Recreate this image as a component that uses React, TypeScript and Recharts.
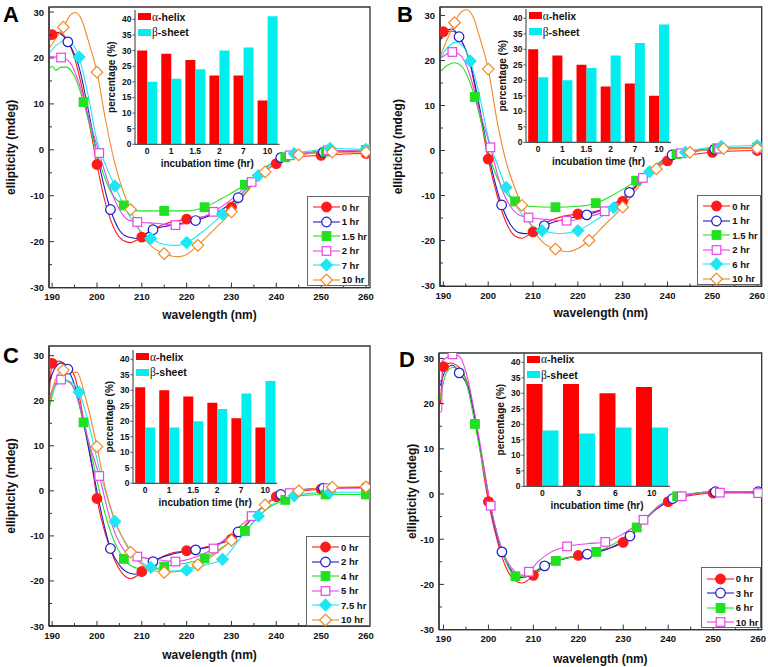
import React from "react"
import { LineChart, Line, XAxis, YAxis, ReferenceArea, BarChart, Bar } from "recharts"

type Pt = number[] // [wavelength, ellipticity, marker?]

const FONT = '"Liberation Sans", Arial, Helvetica, sans-serif'
const AXIS = "#333"

// tick labels
const X_TICKS = [190, 195, 200, 205, 210, 215, 220, 225, 230, 235, 240, 245, 250, 255, 260]
const Y_TICKS = [-30, -25, -20, -15, -10, -5, 0, 5, 10, 15, 20, 25, 30]
const INSET_Y_TICKS = [0, 5, 10, 15, 20, 25, 30, 35, 40]

// ---- panel A ----
const A_labels = ["0 hr", "1 hr", "1.5 hr", "2 hr", "7 hr", "10 hr"]
const A_0: Pt[] = [[189.3, 24], [190, 25.1, 1], [191.5, 25.6], [193, 24.5], [195, 20], [197, 12], [199, 2], [200, -3.2, 1], [202, -12], [204, -17.5], [206, -19.8], [207.5, -20.2], [209, -19.6], [210, -19, 1], [212, -17.5], [215, -16.2], [220, -15.1, 1], [225, -14.3], [230, -12.5, 1], [233, -9.5], [236, -6], [240, -3, 1], [245, -1.5], [250, -1.2, 1], [255, -0.9], [260, -0.8, 1]]
const A_1: Pt[] = [[189.3, 24], [191, 25.5], [193.5, 23.5, 1], [196, 18], [198, 9], [200, -1], [203, -13, 1], [205, -17.5], [207, -19], [209, -19.3], [211, -18.2], [212.5, -17.4, 1], [216, -16.5], [222, -15.4, 1], [227, -13.5], [231.5, -10.4, 1], [236, -5.5], [241, -1.7, 1], [245, -1], [250.5, -0.5, 1], [260, -0.3, 1]]
const A_15: Pt[] = [[189.3, 17.5], [190, 18.2], [190.8, 17.3], [192, 18], [193, 18], [195, 16], [197, 10.4, 1], [199, 3], [201, -4], [203, -9], [206, -12.1, 1], [209, -13.3], [215, -13.3, 1], [220, -13.3], [224, -12.5, 1], [228, -10.5], [233, -7.6, 1], [238, -3.5], [242, -1.6, 1], [246, -0.8], [251, -0.4, 1], [260, 0, 1]]
const A_2: Pt[] = [[189.3, 20.3], [192, 20.1, 1], [194, 19], [196, 14.5], [198, 7.5], [200.5, -0.7, 1], [203, -8.5], [205, -13], [207, -15.3], [209, -15.7, 1], [213, -16], [217.5, -16.4, 1], [222, -15.3], [226, -13.5, 1], [230, -10.8], [234.5, -7, 1], [239, -3.5], [243, -1.2, 1], [247, -0.6], [251.5, -0.1, 1], [260, -0.3, 1]]
const A_7: Pt[] = [[189.3, 21], [191, 22.8], [193, 23.8], [194.5, 23], [196, 20.2, 1], [198, 12], [200, 2], [202, -3.5], [204, -7.9, 1], [207, -14], [210, -18], [212, -19.3, 1], [215, -20.6], [218, -20.8], [220, -20.2, 1], [224, -17.5], [228, -14, 1], [232, -10], [236, -5.6, 1], [240, -2.2], [244, -0.8, 1], [248, -0.2], [252, 0.3, 1], [260, 0.1, 1]]
const A_10: Pt[] = [[189.3, 22], [191, 24.5], [192.5, 26.7, 1], [194, 29.3], [195.2, 29.9], [196.5, 28.5], [198, 24], [200, 16.9, 1], [202, 6], [204, -3], [206, -9.5], [207.5, -13, 1], [210, -18.5], [212.5, -21.3], [215, -22.6, 1], [218, -23.3], [220, -22.8], [222.5, -20.8, 1], [226, -17.5], [230, -13.5, 1], [234, -8.5], [237.5, -4.8, 1], [241, -2.2], [245, -1.1, 1], [252.5, -0.5, 1], [260, -0.5, 1]]
const A_times = ["0", "1", "1.5", "2", "7", "10"]
const A_helix = [30, 29, 27, 22, 22, 14]
const A_sheet = [20, 21, 24, 30, 31, 41]

// ---- panel B ----
const B_labels = ["0 hr", "1 hr", "1.5 hr", "2 hr", "6 hr", "10 hr"]
const B_0: Pt[] = [[189.3, 25], [190, 26.4, 1], [192, 26.5], [194, 24.5], [196, 19], [198, 9], [200, -1.9, 1], [202, -10], [204, -16], [206, -19], [207.5, -19.5], [209, -18.8], [210, -18.1, 1], [213, -16], [216, -14.8], [220, -14.1, 1], [225, -13.2], [230, -11.3, 1], [233, -8], [236, -4.8], [240, -2.3, 1], [245, -1], [250, -0.4, 1], [255, -0.1], [260, 0, 1]]
const B_1: Pt[] = [[189.3, 24.5], [190.5, 26.5], [192, 27], [193.5, 25.3, 1], [196, 19.5], [198, 10], [200, -0.5], [203, -12.1, 1], [205, -16.5], [207, -18.3], [209, -18.5], [211, -17.5], [212.5, -16.7, 1], [217, -15.3], [222, -14.3, 1], [227, -12.5], [231.5, -9.3, 1], [236, -4.5], [241, -1, 1], [245, -0.3], [250.5, 0.3, 1], [260, 0.5, 1]]
const B_15: Pt[] = [[189.3, 17.5], [191, 19], [192.5, 19.5], [194, 18.8], [197, 11.9, 1], [199, 4], [201, -3.5], [203, -8], [206, -11.3, 1], [209, -12.4], [215, -12.6, 1], [220, -12.4], [224, -11.7, 1], [228, -9.8], [233, -6.7, 1], [238, -2.8], [242, -0.8, 1], [246, 0], [251, 0.5, 1], [260, 0.7, 1]]
const B_2: Pt[] = [[189.3, 20.5], [190.5, 21.3], [192, 21.9, 1], [194, 21], [196, 16.5], [198, 9], [200.5, 0.7, 1], [203, -8.5], [205, -12.5], [207, -14.4], [209, -14.9, 1], [213, -15.3], [217.5, -15.6, 1], [222, -14.8], [226, -13.5, 1], [230, -10.5], [234.5, -6.1, 1], [239, -2.5], [243, -0.6, 1], [247, 0.1], [251.5, 0.4, 1], [260, 0.5, 1]]
const B_6: Pt[] = [[189.3, 20.5], [191, 23], [193, 24.1], [194.5, 23], [196, 19.9, 1], [198, 12.5], [200, 3], [202, -3], [204, -8.2, 1], [207, -13.5], [210, -16.8], [212, -17.8, 1], [216, -18.5], [220, -17.8, 1], [224, -15.5], [228, -12.7, 1], [232, -8.5], [236, -4.7, 1], [240, -1.8], [244, -0.4, 1], [248, 0.5], [252, 0.9, 1], [260, 1.1, 1]]
const B_10: Pt[] = [[189.3, 21], [191, 25], [192.5, 28.4, 1], [194, 30.8], [195.2, 31.3], [196.5, 30], [198, 25.5], [200, 18.1, 1], [202, 6.5], [204, -2.5], [206, -8.5], [207.5, -12.2, 1], [210, -17.5], [212.5, -20.7], [215, -21.9, 1], [217.5, -22.5], [220, -21.8], [222.5, -20, 1], [226, -16.5], [230, -12.6, 1], [234, -7.5], [237.5, -4.1, 1], [241, -1.8], [245, -0.4, 1], [252.5, 0.4, 1], [260, 0.5, 1]]
const B_times = ["0", "1", "1.5", "2", "7", "10"]
const B_helix = [30, 28, 25, 18, 19, 15]
const B_sheet = [21, 20, 24, 28, 32, 38]

// ---- panel C ----
const C_labels = ["0 hr", "2 hr", "4 hr", "5 hr", "7.5 hr", "10 hr"]
const C_0: Pt[] = [[189.3, 20.5], [189.8, 27], [190, 28.3, 1], [191.5, 28.8], [193, 28], [195, 25.5], [197, 16], [199, 5], [200, -1.7, 1], [202, -10], [204, -15.5], [206, -18.7], [207.5, -19.5], [209, -18.8], [210, -17.9, 1], [213, -15.5], [216, -14], [220, -13.3, 1], [225, -12.3], [230, -10.7, 1], [233, -8], [236, -4.5], [240, -1.3, 1], [245, -0.2], [250, 0.4, 1], [255, 0.7], [260, 0.8, 1]]
const C_2: Pt[] = [[189.3, 24], [190.5, 27], [192, 28.4], [193.5, 27, 1], [195, 23.5], [197, 15], [199, 5], [201, -5], [203, -12.8, 1], [205, -16.5], [207, -18.2], [208.5, -18.5], [210.5, -17.3], [212.5, -15.7, 1], [217, -14], [222, -13.1, 1], [227, -11.8], [231.5, -9.1, 1], [236, -4.5], [241, -0.8, 1], [245, 0.2], [250.5, 0.6, 1], [260, 0.8]]
const C_4: Pt[] = [[189.3, 18], [190, 21], [191, 24], [192.5, 24.8], [194.5, 23.5], [197, 15.2, 1], [199, 7], [201, -2], [203, -9], [206, -15.1, 1], [209, -17.2], [212, -17.5], [215, -16.8, 1], [220, -16], [224, -15, 1], [228, -12.5], [233, -8.9, 1], [238, -4], [242, -2, 1], [246, -1], [251, -0.8, 1], [260, -0.8, 1]]
const C_5: Pt[] = [[189.3, 20.5], [190.5, 23.5], [192, 24.7, 1], [194, 24], [196, 19.5], [198, 11.5], [200.5, 3.3, 1], [203, -6.5], [205, -11.5], [207, -14], [209, -14.6, 1], [213, -15.2], [217.5, -15.7, 1], [222, -14.7], [226, -12.8, 1], [230, -9.5], [234.5, -5.6, 1], [239, -2], [243, -0.5, 1], [247, 0.3], [251.5, 0.6, 1], [260, 0.6]]
const C_75: Pt[] = [[189.3, 20], [191, 23.5], [193, 24.5], [194.5, 24], [196, 21.9, 1], [198, 15.5], [200, 7], [202, -0.5], [204, -6.8, 1], [207, -12.5], [209.5, -15.5], [212, -17, 1], [216, -17.8], [220, -17.6, 1], [224, -16.5], [228, -15.2, 1], [232, -10.5], [236, -5.6, 1], [240, -2.5], [244, -1.1, 1], [248, -0.5], [252, -0.3, 1], [260, -0.3]]
const C_10: Pt[] = [[189.3, 19], [190.5, 24], [192.5, 26.8, 1], [194, 26.3], [195.5, 26.3], [197.5, 20.5], [200, 9.8, 1], [202, 0], [204, -6.5], [206, -11], [207.5, -13.6, 1], [210, -16.3], [212.5, -17.7], [215, -18.1, 1], [219, -17.8], [222.5, -16.4, 1], [226, -14.3], [230, -11, 1], [234, -6.5], [237.5, -3.1, 1], [241, -1], [245, 0, 1], [252.5, 0.8, 1], [260, 0.9, 1]]
const C_times = ["0", "1", "1.5", "2", "7", "10"]
const C_helix = [31, 30, 28, 26, 21, 18]
const C_sheet = [18, 18, 20, 24, 29, 33]

// ---- panel D ----
const D_labels = ["0 hr", "3 hr", "6 hr", "10 hr"]
const D_0: Pt[] = [[189.3, 20], [189.8, 27], [190, 28.2, 1], [191.5, 29], [193.5, 28], [195.5, 24], [197.5, 14], [199, 4], [200, -1.7, 1], [202, -10.5], [204, -16.5], [206, -19.2], [207.5, -19.7], [209, -18.9], [210, -18, 1], [213, -15.8], [216, -14.5], [220, -13.6, 1], [225, -12.5], [230, -10.7, 1], [233, -8], [236, -4.5], [240, -1.7, 1], [245, -0.3], [250, 0.2, 1], [255, 0.3], [260, 0.3, 1]]
const D_3: Pt[] = [[189.3, 24], [190.5, 27.5], [192, 28.5], [193.5, 26.8, 1], [195.5, 23.5], [197.5, 14], [199.5, 2.5], [201, -5.5], [203, -12.8, 1], [205, -16.8], [207, -18.5], [209, -18.2], [211, -16.8], [212.5, -15.9, 1], [217, -14.3], [222, -13.3, 1], [227, -12], [231.5, -9.3, 1], [236, -4.5], [241, -1, 1], [245, 0], [250.5, 0.5, 1], [260, 0.5, 1]]
const D_6: Pt[] = [[189.3, 21], [190.5, 26.5], [192, 28], [194, 27.5], [195.5, 23], [197, 15.5, 1], [199, 5], [201, -5], [203, -12.5], [206, -18.2, 1], [208, -18.3], [210, -17.3], [212, -16], [215, -14.8, 1], [220, -13.6], [224, -12.8, 1], [228, -11], [233, -7.4, 1], [238, -2.5], [242, -0.5, 1], [246, 0.2], [251, 0.5], [260, 0.5]]
const D_10: Pt[] = [[189.3, 18], [189.6, 18.5], [189.8, 29.5], [190.5, 30], [192, 30.9, 1], [193.5, 30.5], [195, 27], [197, 17.5], [199, 6], [200.5, -2.6, 1], [202, -9], [204, -14.5], [206, -17.3], [207.5, -18], [209, -17.2, 1], [211, -15], [214, -12.8], [217.5, -11.6, 1], [222, -11], [226, -10.6, 1], [230, -8.8], [234.5, -5.7, 1], [239, -2], [243, -0.5, 1], [247, 0.2], [251.5, 0.3, 1], [260, 0.2, 1]]
const D_times = ["0", "3", "6", "10"]
const D_helix = [33, 33, 30, 32]
const D_sheet = [18, 17, 19, 19]

// marker / line styles, in legend order
const STYLES = [
  { color: "#ff1a1a", shape: "circle", filled: true },
  { color: "#1c1cc8", shape: "circle", filled: false },
  { color: "#22e022", shape: "square", filled: true },
  { color: "#e845e8", shape: "square", filled: false },
  { color: "#1ee6f2", shape: "diamond", filled: true },
  { color: "#f08a24", shape: "diamond", filled: false },
]

function marker(style: any, cx: number, cy: number, key?: string) {
  const fill = style.filled ? style.color : "#fff"
  const common = { fill, stroke: style.color, strokeWidth: 1.2 }
  if (style.shape === "circle") return <circle key={key} cx={cx} cy={cy} r={4.8} {...common} />
  if (style.shape === "square") return <rect key={key} x={cx - 4.3} y={cy - 4.3} width={8.6} height={8.6} {...common} />
  return (
    <polygon
      key={key}
      points={`${cx},${cy - 5.8} ${cx + 5.8},${cy} ${cx},${cy + 5.8} ${cx - 5.8},${cy}`}
      {...common}
    />
  )
}

function XTick(props: any) {
  const { x, y, payload } = props
  const major = payload.value % 10 === 0
  return (
    <g>
      <line x1={x} x2={x} y1={y} y2={y - (major ? 5 : 3)} stroke={AXIS} />
      {major && (
        <text x={x} y={y + 12.5} textAnchor="middle" fontSize={9.5} fontWeight={700} fill="#111" fontFamily={FONT}>
          {payload.value}
        </text>
      )}
    </g>
  )
}

function YTick(props: any) {
  const { x, y, payload } = props
  const major = payload.value % 10 === 0
  return (
    <g>
      <line x1={x} x2={x + (major ? 5 : 3)} y1={y} y2={y} stroke={AXIS} />
      {major && (
        <text x={x - 5} y={y + 3.5} textAnchor="end" fontSize={9.5} fontWeight={700} fill="#111" fontFamily={FONT}>
          {payload.value}
        </text>
      )}
    </g>
  )
}

function CDChart({ p }: { p: any }) {
  const ml = 50
  const mt = 8
  const mr = 8
  const xh = 42
  const W = ml + p.plot.w + mr
  const H = mt + p.plot.h + xh
  return (
    <div style={{ position: "absolute", left: p.plot.x - ml, top: p.plot.y - mt }}>
      <LineChart width={W} height={H} margin={{ top: mt, right: mr, bottom: 0, left: 0 }}>
        <XAxis
          type="number"
          dataKey="x"
          domain={p.xDomain}
          allowDataOverflow
          ticks={X_TICKS}
          interval={0}
          height={xh}
          tickSize={0}
          tickMargin={0}
          tickLine={false}
          axisLine={{ stroke: AXIS, strokeWidth: 1.3 }}
          tick={<XTick />}
          label={{
            content: (lp: any) => {
              const vb = lp.viewBox
              return (
                <text x={vb.x + vb.width / 2} y={vb.y + p.xTitleDy + 4} textAnchor="middle" fontSize={12} fontWeight={700} fill="#111" fontFamily={FONT}>
                  wavelength (nm)
                </text>
              )
            },
          }}
        />
        <YAxis
          type="number"
          domain={p.yDomain}
          allowDataOverflow
          ticks={Y_TICKS}
          interval={0}
          width={ml}
          tickSize={0}
          tickMargin={0}
          tickLine={false}
          axisLine={{ stroke: AXIS, strokeWidth: 1.3 }}
          tick={<YTick />}
          label={{
            content: (lp: any) => {
              const vb = lp.viewBox
              const cx = vb.x + vb.width + p.yTitleDx
              const cy = vb.y + vb.height / 2
              return (
                <text x={cx} y={cy} dy={4} transform={`rotate(-90 ${cx} ${cy})`} textAnchor="middle" fontSize={12} fontWeight={700} fill="#111" fontFamily={FONT}>
                  ellipticity (mdeg)
                </text>
              )
            },
          }}
        />
        <ReferenceArea
          x1={p.xDomain[0]}
          x2={p.xDomain[1]}
          y1={p.yDomain[0]}
          y2={p.yDomain[1]}
          fill="none"
          stroke={AXIS}
          strokeWidth={1.3}
          ifOverflow="visible"
        />
        {p.series.map((pts: Pt[], i: number) => {
          const st = STYLES[i]
          const rows = pts.map(([x, y, m]) => ({ x, y, m: m === 1 }))
          return (
            <Line
              key={i}
              data={rows}
              dataKey="y"
              type="monotone"
              stroke={st.color}
              strokeWidth={1.1}
              isAnimationActive={false}
              activeDot={false}
              dot={(dp: any) =>
                dp.payload.m ? marker(st, dp.cx, dp.cy, `m${i}-${dp.index}`) : <g key={`n${i}-${dp.index}`} />
              }
            />
          )
        })}
      </LineChart>
    </div>
  )
}

function InsetXTick(props: any) {
  const { x, y, payload } = props
  return (
    <text x={x} y={y + 9.5} textAnchor="middle" fontSize={8.5} fontWeight={700} fill="#111" fontFamily={FONT}>
      {payload.value}
    </text>
  )
}

function InsetYTick(props: any) {
  const { x, y, payload } = props
  return (
    <g>
      <line x1={x} x2={x - 2.5} y1={y} y2={y} stroke="#555" />
      <text x={x - 3.5} y={y + 3} textAnchor="end" fontSize={8.5} fontWeight={700} fill="#111" fontFamily={FONT}>
        {payload.value}
      </text>
    </g>
  )
}

function Inset({ p }: { p: any }) {
  const r = p.inset
  const ml = 34
  const mt = 4
  const mr = 4
  const xh = 34
  const rows = p.times.map((t: string, i: number) => ({ t, helix: p.helix[i], sheet: p.sheet[i] }))
  const frame = { stroke: "#555", strokeWidth: 1.2 }
  return (
    <>
      <div style={{ position: "absolute", left: r.x - ml, top: r.y - mt }}>
        <BarChart
          width={ml + r.w + mr}
          height={mt + r.h + xh}
          data={rows}
          margin={{ top: mt, right: mr, bottom: 0, left: 0 }}
          barGap={0}
          barCategoryGap={p.barGap}
        >
          <XAxis
            dataKey="t"
            height={xh}
            tickSize={0}
            tickMargin={0}
            tickLine={false}
            interval={0}
            axisLine={frame}
            tick={<InsetXTick />}
            label={{
              content: (lp: any) => {
                const vb = lp.viewBox
                return (
                  <text x={vb.x + vb.width / 2} y={vb.y + 22.5} textAnchor="middle" fontSize={10} fontWeight={700} fill="#111" fontFamily={FONT}>
                    incubation time (hr)
                  </text>
                )
              },
            }}
          />
          <XAxis xAxisId="top" dataKey="t" orientation="top" height={0} tick={false} tickLine={false} axisLine={frame} />
          <YAxis
            domain={[0, 43]}
            allowDataOverflow
            ticks={INSET_Y_TICKS}
            interval={0}
            width={ml}
            tickSize={0}
            tickMargin={0}
            tickLine={false}
            axisLine={frame}
            tick={<InsetYTick />}
            label={{
              content: (lp: any) => {
                const vb = lp.viewBox
                const cx = vb.x + vb.width - 23
                const cy = vb.y + vb.height / 2
                return (
                  <text x={cx} y={cy} dy={3.5} transform={`rotate(-90 ${cx} ${cy})`} textAnchor="middle" fontSize={10} fontWeight={700} fill="#111" fontFamily={FONT}>
                    percentage (%)
                  </text>
                )
              },
            }}
          />
          <YAxis yAxisId="right" orientation="right" width={0} tick={false} tickLine={false} axisLine={frame} />
          <Bar dataKey="helix" fill="#ff0000" isAnimationActive={false} />
          <Bar dataKey="sheet" fill="#00eeee" isAnimationActive={false} />
        </BarChart>
      </div>
      {[
        { c: "#ff0000", g: "\u03b1", t: "-helix" },
        { c: "#00eeee", g: "\u03b2", t: "-sheet" },
      ].map((e, i) => (
        <div
          key={i}
          style={{ position: "absolute", left: r.x + 3, top: r.y + i * 15.7 + 0.5, height: 12, display: "flex", alignItems: "center", whiteSpace: "nowrap" }}
        >
          <span style={{ display: "inline-block", width: 13, height: 7, background: e.c, marginRight: 1 }} />
          <span style={{ fontFamily: '"Liberation Serif", serif', fontSize: 11.5, color: "#111" }}>{e.g}</span>
          <span style={{ fontFamily: FONT, fontSize: 10.5, fontWeight: 700, color: "#111" }}>{e.t}</span>
        </div>
      ))}
    </>
  )
}

function SeriesLegend({ p }: { p: any }) {
  const b = p.legend
  return (
    <div
      style={{
        position: "absolute",
        left: b.x,
        top: b.y,
        width: b.w,
        height: b.h,
        border: "1px solid #666",
        boxSizing: "border-box",
        background: "#fff",
      }}
    >
      {p.labels.map((lab: string, i: number) => (
        <div key={lab} style={{ position: "absolute", left: 0, top: 3 + i * 14.5, height: 14.5, display: "flex", alignItems: "center", whiteSpace: "nowrap" }}>
          <svg width={34} height={14} style={{ display: "block" }}>
            <line x1={5} x2={32} y1={7} y2={7} stroke={STYLES[i].color} strokeWidth={1.1} />
            {marker(STYLES[i], 18.5, 7)}
          </svg>
          <span style={{ fontFamily: FONT, fontSize: 9.5, fontWeight: 700, color: "#111" }}>{lab}</span>
        </div>
      ))}
    </div>
  )
}

const PANELS = [
  {
    letter: "A",
    letterPos: { x: 3, y: 4 },
    plot: { x: 49, y: 6.7, w: 321, h: 280.6 },
    xDomain: [189.3, 260.9],
    yDomain: [-30, 31.1],
    xTitleDy: 27,
    yTitleDx: -38,
    series: [A_0, A_1, A_15, A_2, A_7, A_10],
    labels: A_labels,
    legend: { x: 306.7, y: 196, w: 62.5, h: 89.5 },
    inset: { x: 135, y: 10, w: 144.5, h: 134.3 },
    times: A_times,
    helix: A_helix,
    sheet: A_sheet,
    barGap: 2.2,
  },
  {
    letter: "B",
    letterPos: { x: 397, y: 4 },
    plot: { x: 440, y: 7.3, w: 321.7, h: 279.4 },
    xDomain: [189.25, 261],
    yDomain: [-30.2, 31.9],
    xTitleDy: 27,
    yTitleDx: -42,
    series: [B_0, B_1, B_15, B_2, B_6, B_10],
    labels: B_labels,
    legend: { x: 697.3, y: 195, w: 63.5, h: 89.5 },
    inset: { x: 525.7, y: 9.3, w: 145, h: 133.4 },
    times: B_times,
    helix: B_helix,
    sheet: B_sheet,
    barGap: 2.2,
  },
  {
    letter: "C",
    letterPos: { x: 3, y: 345 },
    plot: { x: 49, y: 346, w: 321, h: 280 },
    xDomain: [189.3, 260.9],
    yDomain: [-30, 32.15],
    xTitleDy: 29,
    yTitleDx: -38,
    series: [C_0, C_2, C_4, C_5, C_75, C_10],
    labels: C_labels,
    legend: { x: 306, y: 536, w: 63.5, h: 89.5 },
    inset: { x: 133, y: 350, w: 144.3, h: 133.3 },
    times: C_times,
    helix: C_helix,
    sheet: C_sheet,
    barGap: 2.2,
  },
  {
    letter: "D",
    letterPos: { x: 399, y: 349 },
    plot: { x: 439, y: 352.7, w: 322.7, h: 276.6 },
    xDomain: [189, 260.8],
    yDomain: [-30, 31.2],
    xTitleDy: 29,
    yTitleDx: -27,
    series: [D_0, D_3, D_6, D_10],
    labels: D_labels,
    legend: { x: 700.7, y: 567.3, w: 60.5, h: 61 },
    inset: { x: 524, y: 352.7, w: 146, h: 133.3 },
    times: D_times,
    helix: D_helix,
    sheet: D_sheet,
    barGap: 2.5,
  },
]

export default function App() {
  return (
    <div style={{ position: "absolute", left: 0, top: 0, width: 768, height: 667, background: "#fff", fontFamily: FONT }}>
      {PANELS.map((p) => (
        <React.Fragment key={p.letter}>
          <CDChart p={p} />
          <Inset p={p} />
          <SeriesLegend p={p} />
          <div
            style={{
              position: "absolute",
              left: p.letterPos.x,
              top: p.letterPos.y,
              fontFamily: FONT,
              fontSize: 22,
              fontWeight: 700,
              lineHeight: "22px",
              color: "#000",
            }}
          >
            {p.letter}
          </div>
        </React.Fragment>
      ))}
    </div>
  )
}
